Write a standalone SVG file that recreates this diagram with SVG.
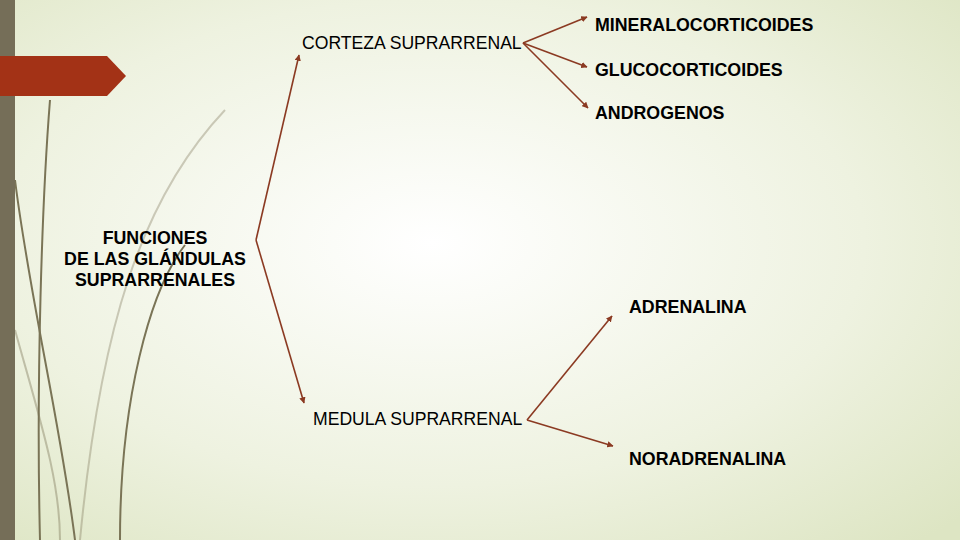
<svg xmlns="http://www.w3.org/2000/svg" width="960" height="540" viewBox="0 0 960 540">
<defs>
<radialGradient id="bg" cx="0.45" cy="0.45" r="0.75">
<stop offset="0" stop-color="#ffffff"/><stop offset="0.6" stop-color="#eef2e0"/><stop offset="1" stop-color="#dde5c3"/>
</radialGradient>
<marker id="ah" viewBox="0 0 10 10" refX="9" refY="5" markerWidth="4" markerHeight="4" orient="auto"><path d="M0,0L10,5L0,10z" fill="#8b3a22"/></marker>
<style>
.c{fill:none;stroke:#8b3a22;stroke-width:1.6;marker-end:url(#ah)}
.r{font-family:"Liberation Sans",Arial,sans-serif;font-size:17.6px;fill:#000}
.b{font-family:"Liberation Sans",Arial,sans-serif;font-size:17.8px;font-weight:bold;fill:#000}
.d{fill:none;stroke:#7a7456;stroke-width:2}
</style>
</defs>
<rect width="960" height="540" fill="url(#bg)"/>
<g id="decor">
<path class="d" d="M50,100 C42,200 36,380 40,540"/>
<path class="d" d="M15,180 C30,300 60,420 75,540"/>
<path class="d" stroke-opacity="0.35" d="M225,110 C140,200 100,330 80,540"/>
<path class="d" d="M185,245 C150,290 120,400 120,540"/>
<path class="d" stroke-opacity="0.4" d="M15,330 C40,420 60,480 60,540"/>
<rect x="0" y="0" width="15" height="540" fill="#756e58"/>
<path d="M0,56H107L126,76L107,96H0z" fill="#a33216"/>
</g>
<g id="connectors">
<path class="c" d="M256,240L299,55"/>
<path class="c" d="M256,240L304,403"/>
<path class="c" d="M523,43L587,17"/>
<path class="c" d="M523,43L587,67"/>
<path class="c" d="M523,43L588,108"/>
<path class="c" d="M527,420L612,316"/>
<path class="c" d="M527,420L613,446"/>
</g>
<g id="root"><text class="b" text-anchor="middle"><tspan x="155" y="244">FUNCIONES</tspan><tspan x="155" y="265">DE LAS GLÁNDULAS</tspan><tspan x="155" y="286">SUPRARRENALES</tspan></text></g>
<g id="corteza"><text class="r" x="302" y="49">CORTEZA SUPRARRENAL</text></g>
<g id="medula"><text class="r" x="313" y="425">MEDULA SUPRARRENAL</text></g>
<g id="mineralo"><text class="b" x="595" y="31">MINERALOCORTICOIDES</text></g>
<g id="gluco"><text class="b" x="595" y="76">GLUCOCORTICOIDES</text></g>
<g id="andro"><text class="b" x="595" y="119">ANDROGENOS</text></g>
<g id="adrenalina"><text class="b" x="629" y="313">ADRENALINA</text></g>
<g id="noradrenalina"><text class="b" x="629" y="465">NORADRENALINA</text></g>
</svg>
